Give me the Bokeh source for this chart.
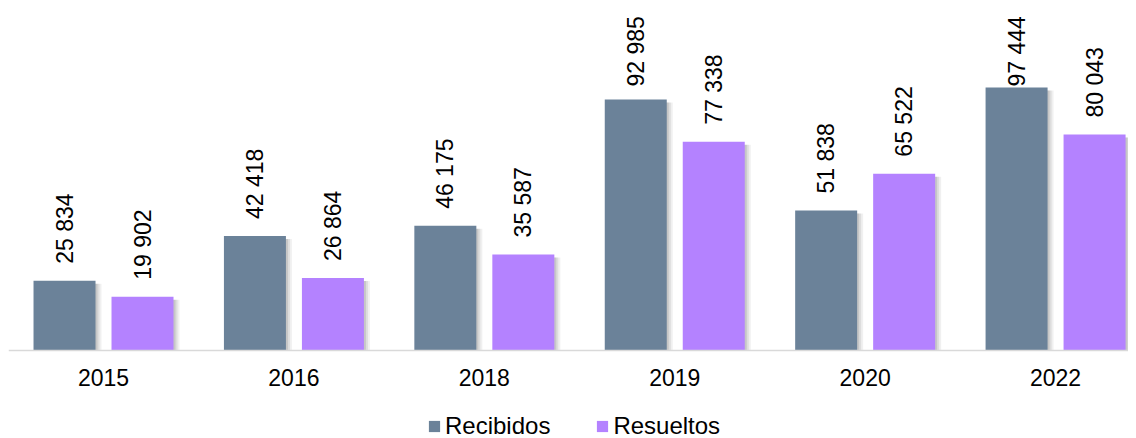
import numpy as np
from bokeh.plotting import figure
from bokeh.models import ColumnDataSource, Range1d, FixedTicker, Legend, LegendItem
from bokeh.core.properties import value
from bokeh.embed import file_html
from bokeh.resources import INLINE

years = ["2015", "2016", "2018", "2019", "2020", "2022"]
recibidos = [25834, 42418, 46175, 92985, 51838, 97444]
resueltos = [19902, 26864, 35587, 77338, 65522, 80043]

c_rec = "#6b8299"
c_res = "#b482ff"
FONT = "Liberation Sans"

idx = np.arange(len(years))
off = 0.2048
bw = 0.3256
ymax = 126700
px = 342 / ymax  # pixels per data unit above baseline
below_px = 88     # frame extends below the baseline to hold labels and legend
ymin = -below_px / px

def fmt(v):
    return f"{v:,}".replace(",", " ")

def label_y(vals):
    gap = 17 / px
    cap = ymax - 78 / px
    return [min(v + gap, cap) for v in vals]

src_rec = ColumnDataSource(dict(x=idx - off, top=recibidos, ly=label_y(recibidos),
                                txt=[fmt(v) for v in recibidos]))
src_res = ColumnDataSource(dict(x=idx + off, top=resueltos, ly=label_y(resueltos),
                                txt=[fmt(v) for v in resueltos]))

p = figure(frame_width=1120, frame_height=342 + below_px, output_backend="svg",
           toolbar_location=None,
           x_range=Range1d(-0.499, 5.383), y_range=Range1d(ymin, ymax),
           min_border_left=8, min_border_right=0, min_border_top=8, min_border_bottom=0)
p.outline_line_color = None
p.grid.visible = False
p.yaxis.visible = False

# soft shadows
for dxp, a in [(2, 0.10), (4, 0.08), (6, 0.06)]:
    dx = dxp / 190.4
    for s in (src_rec, src_res):
        p.vbar(x=s.data["x"] + dx, top=np.array(s.data["top"]) - 3 / px, width=bw,
               fill_color="black", fill_alpha=a, line_color=None)

r1 = p.vbar(x="x", top="top", width=bw, source=src_rec, fill_color=c_rec, line_color=None)
r2 = p.vbar(x="x", top="top", width=bw, source=src_res, fill_color=c_res, line_color=None)

for s in (src_rec, src_res):
    p.text(x="x", y="ly", text="txt", source=s, angle=np.pi / 2, text_align="left",
           text_baseline="middle", text_font=value(FONT), text_font_size="23px",
           text_color="#000000")

ax = p.xaxis[0]
ax.fixed_location = 0
ax.ticker = FixedTicker(ticks=list(idx))
ax.major_label_overrides = {int(i): y for i, y in zip(idx, years)}
ax.major_tick_line_color = None
ax.minor_tick_line_color = None
ax.major_tick_out = 0
ax.major_tick_in = 0
ax.axis_line_color = "#d9d9d9"
ax.axis_line_width = 1.5
ax.major_label_standoff = 18
ax.major_label_text_font = FONT
ax.major_label_text_font_size = "23px"
ax.major_label_text_color = "#000000"

legend = Legend(items=[LegendItem(label="Recibidos", renderers=[r1]),
                       LegendItem(label="Resueltos", renderers=[r2])],
                orientation="horizontal", location=(419, -2),
                glyph_width=14, glyph_height=14, label_standoff=4, spacing=45,
                label_height=14,
                label_text_font=FONT, label_text_font_size="24px",
                label_text_color="#000000", border_line_color=None,
                background_fill_alpha=0, padding=0, margin=0)
p.add_layout(legend, "center")

open("out.html", "w").write(file_html(p, INLINE))
